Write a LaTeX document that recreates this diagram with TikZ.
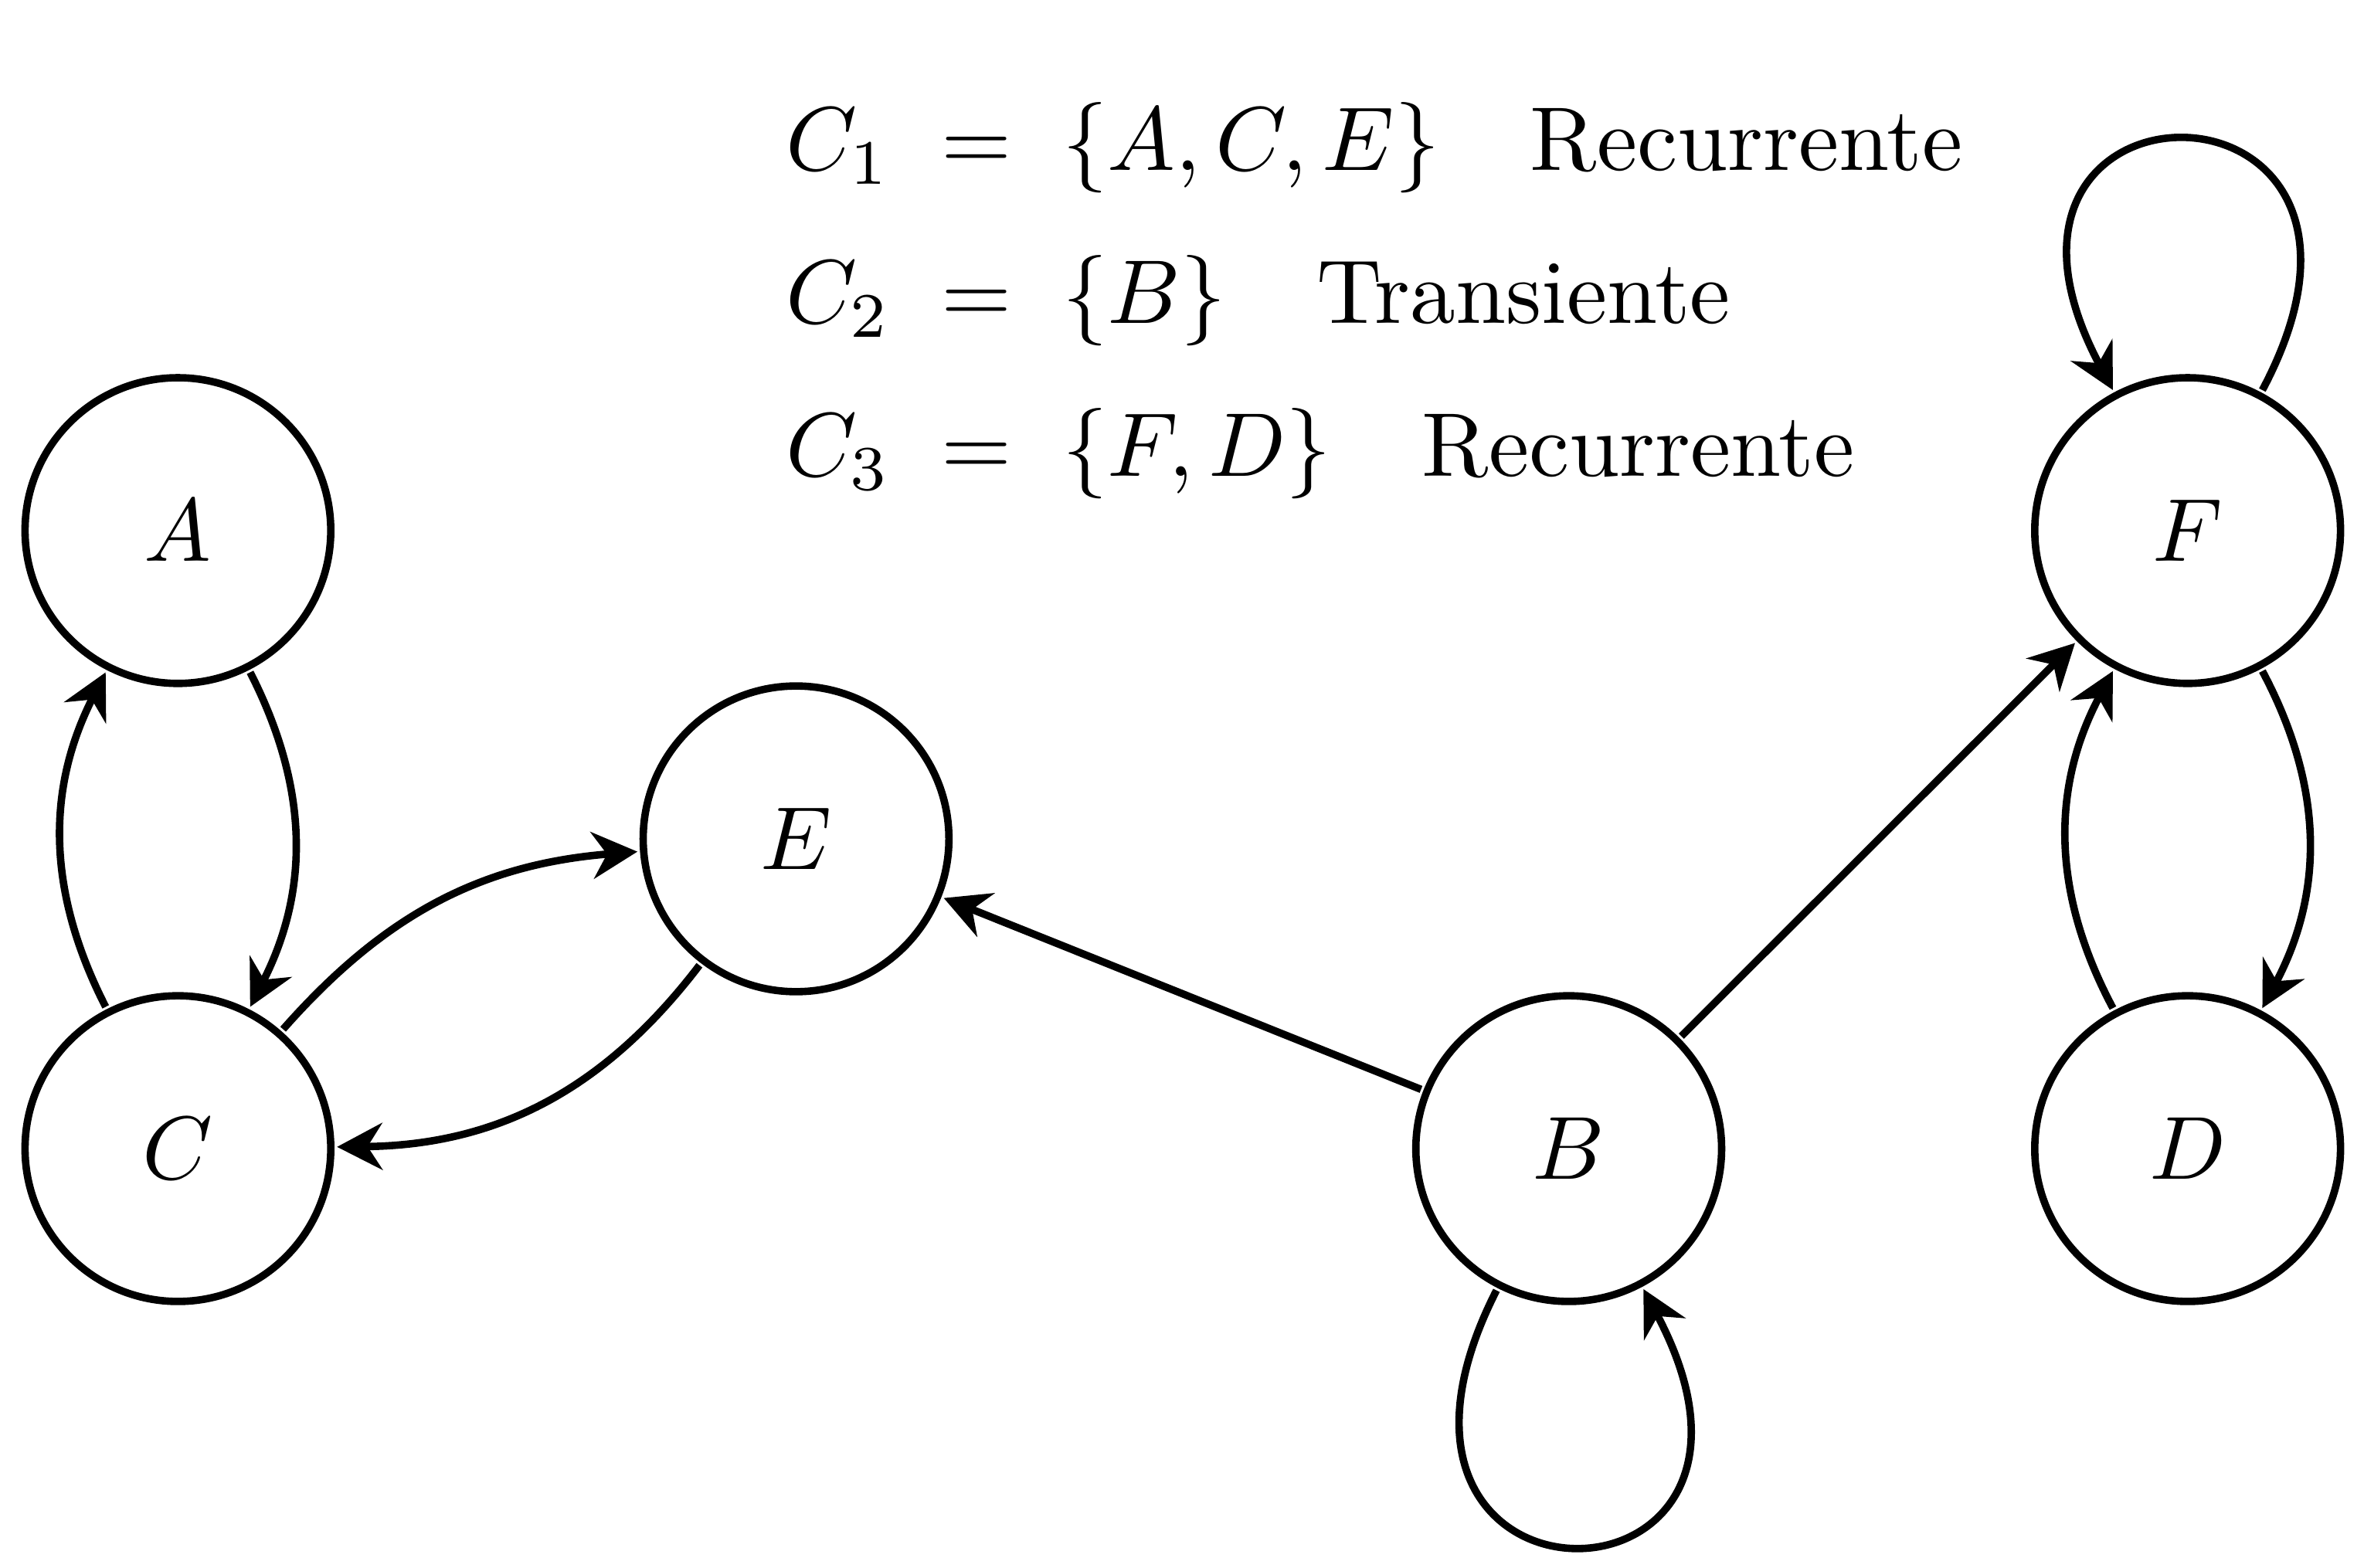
\documentclass[tikz,border=0pt]{standalone}
\usepackage{amsmath,amssymb}
\usetikzlibrary{arrows.meta,positioning}
\tikzset{
  estado/.style={circle, draw, line width=1.4pt, scale=1.69, minimum size=1.2cm, inner sep=0pt},
  trans/.style={-{Stealth[length=3mm,width=3.1mm]}, line width=1.4pt},
  clase/.style={anchor=base west, inner sep=0pt, scale=1.71},
}

\begin{document}
\begin{tikzpicture}
    \useasboundingbox (0,0) rectangle (15.68,10.40);
    % ----- estados -----
    \node[estado] (A) at (1.18,6.88) {$A$};
    \node[estado] (C) at (1.18,2.78) {$C$};
    \node[estado] (E) at (5.28,4.835) {$E$};
    \node[estado] (B) at (10.405,2.78) {$B$};
    \node[estado] (F) at (14.51,6.88) {$F$};
    \node[estado] (D) at (14.51,2.78) {$D$};
    % ----- clases -----
    \node[clase] (cl1) at (5.20,9.27) {$C_1 \;=\; \{A,C,E\}$\quad Recurrente};
    \node[clase] (cl2) at (5.20,8.255) {$C_2 \;=\; \{B\}$\quad Transiente};
    \node[clase] (cl3) at (5.20,7.24) {$C_3 \;=\; \{F,D\}$\quad Recurrente};
    % ----- transiciones -----
    \draw[trans] (A) to[bend left=27] (C);
    \draw[trans] (C) to[bend left=27] (A);
    \draw[trans] (C) to[bend left=22] (E);
    \draw[trans] (E) to[bend left=26] (C);
    \draw[trans] (B) -- (E);
    \draw[trans] (B) -- (F);
    \draw[trans] (F) to[bend left=28] (D);
    \draw[trans] (D) to[bend left=28] (F);
    % lazos
    \draw[trans] (F.62) .. controls +(62:2.5) and +(118:2.5) .. (F.118);
    \draw[trans] (B.243) .. controls +(243:2.55) and +(298:2.55) .. (B.298);
\end{tikzpicture}
\end{document}
